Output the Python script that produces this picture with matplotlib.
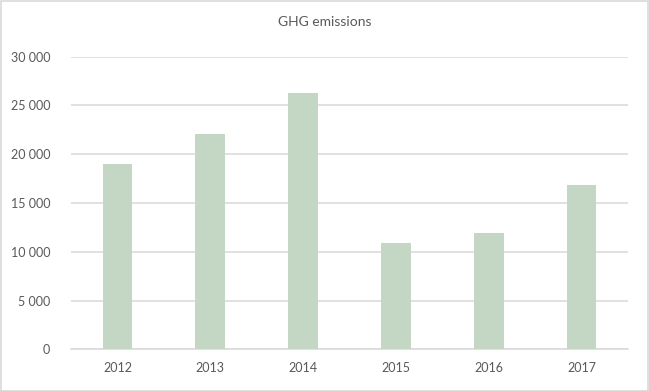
import matplotlib
matplotlib.use("Agg")
import matplotlib.pyplot as plt
from matplotlib.ticker import FuncFormatter, MultipleLocator
from matplotlib.patches import Rectangle

years = ["2012", "2013", "2014", "2015", "2016", "2017"]
emissions = [19000, 22100, 26250, 10850, 11900, 16850]
title = "GHG emissions"

plt.rcParams['font.family'] = ['Lato', 'DejaVu Sans']

fig = plt.figure(figsize=(6.49, 3.91), dpi=100)
ax = fig.add_axes([71/649, 1 - 349.3/391, (628 - 71)/649, (349.3 - 56.5)/391])

x = list(range(len(years)))
ax.bar(x, emissions, width=0.32, color="#c3d7c4", zorder=3)
ax.set_xlim(-0.5, len(years) - 0.5)
ax.set_ylim(0, 30000)
ax.yaxis.set_major_locator(MultipleLocator(5000))
ax.yaxis.set_major_formatter(FuncFormatter(lambda v, p: f"{int(v):,}".replace(",", " ")))
ax.set_xticks(x)
ax.set_xticklabels(years)

ax.grid(axis="y", color="#d9d9d9", linewidth=1.1, zorder=0)
for s in ["top", "right", "left"]:
    ax.spines[s].set_visible(False)
ax.spines["bottom"].set_color("#d9d9d9")
ax.spines["bottom"].set_linewidth(1.1)
ax.tick_params(axis="both", length=0, colors="#595959", labelsize=9)
ax.tick_params(axis="y", pad=15)
ax.tick_params(axis="x", pad=9)

fig.text(0.5, 1 - 22/391, title, ha="center", va="center", fontsize=10, color="#595959")

fig.patches.append(Rectangle((0.5/649, 0.5/391), 1 - 1.5/649, 1 - 1.5/391, transform=fig.transFigure,
                             fill=False, edgecolor="#d9d9d9", linewidth=1.2))

fig.savefig("out.png", dpi=100, facecolor="white")
